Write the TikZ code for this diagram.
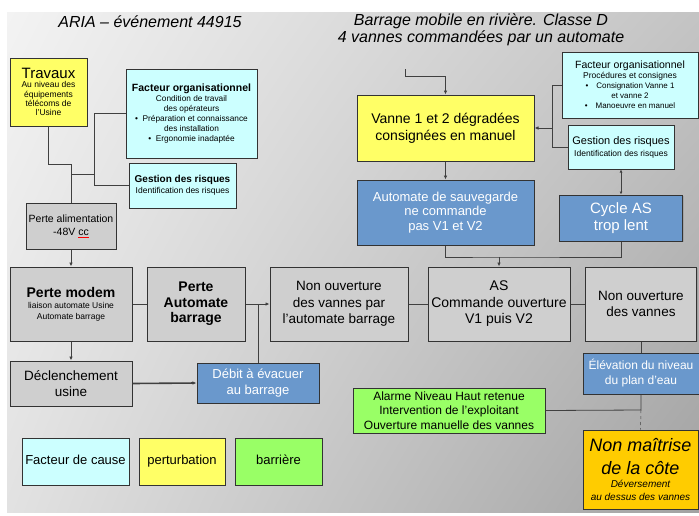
\documentclass[tikz,border=0pt]{standalone}
\usepackage{fontspec}
\setmainfont{Liberation Sans}
\usetikzlibrary{arrows.meta,shadings,shadows}
\definecolor{causecol}{HTML}{CCFFFF}
\definecolor{pertcol}{HTML}{FFFF66}
\definecolor{barcol}{HTML}{99FF66}
\definecolor{evtcol}{HTML}{CFCFCF}
\definecolor{effcol}{HTML}{6A98CC}
\definecolor{finalcol}{HTML}{FFCC00}
\definecolor{bgA}{HTML}{F3F3F3}
\definecolor{bgB}{HTML}{C4C4C4}
\definecolor{bgC}{HTML}{E2E2E2}
\definecolor{bgD}{HTML}{A2A2A2}
\newcommand\setfs[2]{\fontsize{#1}{#2}\selectfont}

\begin{document}
\begin{tikzpicture}[x=1pt,y=-1pt]
    \tikzstyle{box}=[draw=black!80, line width=1pt, align=center, inner sep=1pt,
        drop shadow={shadow xshift=1.3pt, shadow yshift=-1.3pt, opacity=0.35}]
    \tikzstyle{cause}=[box, fill=causecol]
    \tikzstyle{perturb}=[box, fill=pertcol]
    \tikzstyle{barrier}=[box, fill=barcol]
    \tikzstyle{event}=[box, fill=evtcol]
    \tikzstyle{effect}=[box, fill=effcol, text=white]
    \tikzstyle{final}=[box, fill=finalcol]
    \tikzstyle{legend}=[minimum height=47pt, text height=9.5pt, text depth=3pt, font=\setfs{13}{15}]
    \tikzstyle{link}=[draw=black!75, line width=0.8pt]
    \tikzstyle{arr}=[link, -{Latex[length=4pt,width=3.5pt]}]

    \useasboundingbox (0,0) rectangle (699,515);
    \shade[upper left=bgA, upper right=bgB, lower left=bgC, lower right=bgD] (7,12) rectangle (699,512);

    % titles
    \node[font=\itshape\setfs{16}{17}] (titre) at (150,22) {ARIA -- événement 44915};
    \node[font=\itshape\setfs{16}{17}, align=center] (sujet) at (481,30)
        {Barrage mobile en rivière. Classe D\\4 vannes commandées par un automate};

    % left branch
    \node[perturb, minimum width=77pt, minimum height=68pt, font=\setfs{8.5}{9.3}] (travaux) at (48.5,92)
        {\setfs{15}{17}Travaux\\Au niveau des\\équipements\\télécoms de\\l'Usine};
    \node[cause, minimum width=131pt, minimum height=89pt, font=\setfs{8.3}{10}] (facorgA) at (191.5,113.5)
        {\textbf{\setfs{10.5}{11}Facteur organisationnel}\\Condition de travail\\des opérateurs\\
         \textbullet\ \ Préparation et connaissance\\des installation\\\textbullet\ \ Ergonomie inadaptée};
    \node[cause, minimum width=107pt, minimum height=45pt, font=\setfs{8.5}{11}] (gestA) at (182.5,185.5)
        {\textbf{\setfs{10}{11}Gestion des risques}\\Identification des risques};
    \node[event, minimum width=90pt, minimum height=46pt, font=\setfs{10.5}{13}] (pertealim) at (71,226)
        {Perte alimentation\\-48V \textcolor{red}{\underline{\textcolor{black}{cc}}}};

    \coordinate (j1) at (71,164);
    \coordinate (j2) at (71,174);
    \coordinate (j3) at (94,174);
    \coordinate (j4) at (94,113.5);
    \coordinate (j5) at (94,185.5);
    \draw[link] (travaux.south) |- (j1) -- (pertealim.north);
    \draw[link] (j2) -- (j3);
    \draw[link] (facorgA.west) -- (j4) -- (j5) -- (gestA.west);

    % main chain
    \node[event, minimum width=122pt, minimum height=74pt, font=\setfs{8.5}{11}] (pertemodem) at (71,304)
        {\textbf{\setfs{14}{16}Perte modem}\\liaison automate Usine\\Automate barrage};
    \node[event, minimum width=98pt, minimum height=74pt, font=\setfs{14}{15.5}\bfseries] (perteauto) at (196,304)
        {Perte\\Automate\\barrage};
    \node[event, minimum width=138pt, minimum height=74pt, font=\setfs{13.5}{16.5}] (nonouvauto) at (339,304)
        {Non ouverture\\des vannes par\\l'automate barrage};
    \node[event, minimum width=142pt, minimum height=74pt, font=\setfs{14}{16.5}] (as) at (499,304)
        {AS\\Commande ouverture\\V1 puis V2};
    \node[event, minimum width=111pt, minimum height=74pt, font=\setfs{13.5}{16}] (nonouv) at (641,304)
        {Non ouverture\\des vannes};
    \node[event, minimum width=122pt, minimum height=45pt, font=\setfs{13.5}{16}] (declench) at (71,383.5)
        {Déclenchement\\usine};
    \node[effect, minimum width=122pt, minimum height=40pt, font=\setfs{13}{15.5}] (debit) at (258,383)
        {Débit à évacuer\\au barrage};

    \coordinate (j6) at (258,304);
    \draw[arr] (pertealim.south) -- (pertemodem.north);
    \draw[link] (pertemodem.east) -- (perteauto.west);
    \draw[link] (perteauto.east) -- (j6);
    \draw[arr] (j6) -- (nonouvauto.west);
    \draw[link] (debit.north) -- (j6);
    \draw[arr] (pertemodem.south) -- (declench.north);
    \draw[arr, line width=1.6pt] (declench.east) -- (debit.west);
    \draw[link] (nonouvauto.east) -- (as.west);
    \draw[link] (as.east) -- (nonouv.west);

    % right branch
    \node[perturb, minimum width=177pt, minimum height=66pt, font=\setfs{14}{17}] (vanne) at (445.5,128)
        {Vanne 1 et 2 dégradées\\consignées en manuel};
    \node[effect, minimum width=177pt, minimum height=65pt, font=\setfs{13}{14.5}] (autosauv) at (445.5,212.5)
        {Automate de sauvegarde\\ne commande\\pas V1 et V2};
    \node[cause, minimum width=136pt, minimum height=66pt, font=\setfs{8}{10}] (facorgB) at (630,85)
        {\setfs{10.5}{11}Facteur organisationnel\\\setfs{8.5}{10}Procédures et consignes\\
         \textbullet\quad Consignation Vanne 1\\et vanne 2\\\textbullet\quad Manoeuvre en manuel};
    \node[cause, minimum width=106pt, minimum height=44pt, font=\setfs{8.5}{12}] (gestB) at (621,147)
        {\setfs{11}{12}Gestion des risques\\Identification des risques};
    \node[effect, minimum width=123pt, minimum height=46pt, font=\setfs{15}{17}] (cycle) at (621,218)
        {Cycle AS\\trop lent};

    \coordinate (in1) at (405,69);
    \coordinate (in2) at (405,76);
    \coordinate (j8) at (552,85);
    \coordinate (j9) at (552,147);
    \coordinate (j10) at (552,128);
    \coordinate (j11) at (499,257);
    \draw[arr] (in1) -- (in2) -| (vanne.north);
    \draw[arr] (vanne.south) -- (autosauv.north);
    \draw[link] (facorgB.west) -- (j8) -- (j9) -- (gestB.west);
    \draw[arr] (j10) -- (vanne.east);
    \draw[link, {Latex[length=3pt,width=3pt]}-{Latex[length=3pt,width=3pt]}] (gestB.south) -- (cycle.north);
    \draw[link] (autosauv.south) |- (j11) -| (cycle.south);
    \draw[arr] (j11) -- (as.north);

    % consequences
    \node[effect, minimum width=116pt, minimum height=41pt, font=\setfs{12}{15}] (elev) at (641,373.5)
        {Élévation du niveau\\du plan d'eau};
    \node[barrier, minimum width=192pt, minimum height=45pt, font=\setfs{12}{14.5}] (alarme) at (449,410.5)
        {Alarme Niveau Haut retenue\\Intervention de l'exploitant\\Ouverture manuelle des vannes};
    \node[final, minimum width=115pt, minimum height=79pt, font=\itshape\setfs{10}{13}] (nonmait) at (640.5,469.5)
        {\setfs{18}{22}Non maîtrise\\[9pt]\setfs{18}{22}de la côte\\Déversement\\au dessus des vannes};

    \coordinate (j7) at (641,410);
    \draw[link] (nonouv.south) -- (elev.north);
    \draw[link] (elev.south) -- (j7) -- (alarme.east);
    \draw[link, dashed, line width=0.5pt] (j7) -- (nonmait.north);

    % legend
    \node[cause, legend, minimum width=107pt] (legcause) at (75.5,461.5) {Facteur de cause};
    \node[perturb, legend, minimum width=86pt] (legpert) at (182,461.5) {perturbation};
    \node[barrier, legend, minimum width=87pt] (legbar) at (278.5,461.5) {barrière};
\end{tikzpicture}
\end{document}
